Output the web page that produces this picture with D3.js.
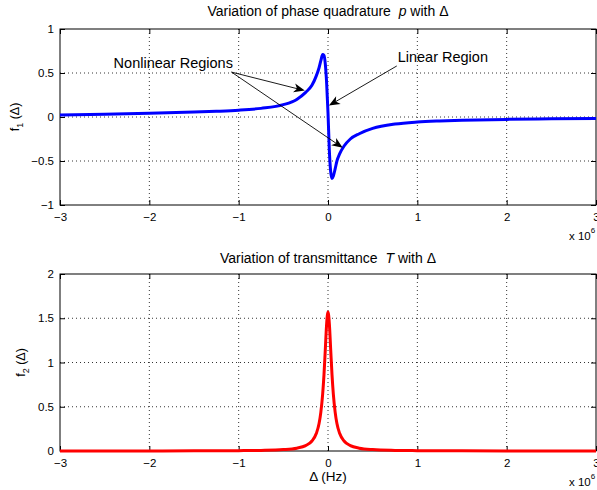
<!DOCTYPE html>
<html>
<head>
<meta charset="utf-8">
<script src="https://cdn.jsdelivr.net/npm/d3@7"></script>
<style>
  body { margin: 0; background: #fff; }
  svg { display: block; font-family: "Liberation Sans", Arial, sans-serif; }
  .tick text { font-size: 11.5px; fill: #000; }
  .tick line { stroke: #000; }
  .grid line { stroke: #000; stroke-dasharray: 1,3; stroke-width: 0.8; }
</style>
</head>
<body>
<svg width="597" height="490"></svg>
<script>
// detuning in units of 1e6 Hz
const delta = [-3, -2.5, -2, -1.5, -1.25, -1, -0.75, -0.5, -0.35, -0.25, -0.18, -0.13, -0.1, -0.08, -0.06, -0.045,
  -0.03, -0.015, 0, 0.015, 0.03, 0.045, 0.06, 0.08, 0.1, 0.13, 0.18, 0.25, 0.35, 0.5, 0.75, 1, 1.25, 1.5, 2, 2.5, 3];

// phase quadrature p
const f1 = [0.022, 0.031, 0.042, 0.056, 0.065, 0.077, 0.098, 0.14, 0.2, 0.28, 0.36, 0.47, 0.56, 0.64, 0.71, 0.7,
  0.6, 0.38, 0.05, -0.38, -0.62, -0.7, -0.67, -0.59, -0.5, -0.42, -0.33, -0.25, -0.19, -0.13, -0.08, -0.057, -0.045, -0.037, -0.027, -0.021, -0.018];

// transmittance T
const f2 = [0.0004, 0.0006, 0.001, 0.0018, 0.0025, 0.004, 0.007, 0.016, 0.032, 0.061, 0.113, 0.2, 0.31, 0.44, 0.64, 0.86,
  1.15, 1.44, 1.57, 1.44, 1.15, 0.86, 0.64, 0.44, 0.31, 0.2, 0.113, 0.061, 0.032, 0.016, 0.007, 0.004, 0.0025, 0.0018, 0.001, 0.0006, 0.0004];

const xTicks = [-3, -2, -1, 0, 1, 2, 3];
const y1Ticks = [-1, -0.5, 0, 0.5, 1];
const y2Ticks = [0, 0.5, 1, 1.5, 2];

const svg = d3.select("svg");

const x = d3.scaleLinear().domain([-3, 3]).range([60, 596]);
const y1 = d3.scaleLinear().domain([-1, 1]).range([205, 29]);
const y2 = d3.scaleLinear().domain([0, 2]).range([451, 274]);

function drawPanel(y, yTicks, values, color) {
  const [yb, yt] = y.range();
  const g = svg.append("g");

  // grid
  const grid = g.append("g").attr("class", "grid");
  grid.selectAll(".gx").data(xTicks.slice(1, -1)).enter().append("line")
    .attr("x1", d => x(d)).attr("x2", d => x(d))
    .attr("y1", yt).attr("y2", yb);
  grid.selectAll(".gy").data(yTicks.slice(1, -1)).enter().append("line")
    .attr("x1", x(-3)).attr("x2", x(3))
    .attr("y1", d => y(d)).attr("y2", d => y(d));

  // axes with inward ticks
  g.append("g").attr("transform", `translate(0,${yb})`)
    .call(d3.axisBottom(x).tickValues(xTicks).tickSize(-5).tickPadding(8).tickFormat(d3.format("d")))
    .call(a => a.select(".domain").remove());
  g.append("g").attr("transform", `translate(0,${yt})`)
    .call(d3.axisTop(x).tickValues(xTicks).tickSize(-5).tickFormat(""))
    .call(a => a.select(".domain").remove());
  g.append("g").attr("transform", `translate(${x(-3)},0)`)
    .call(d3.axisLeft(y).tickValues(yTicks).tickSize(-5).tickPadding(6).tickFormat(d3.format("")))
    .call(a => a.select(".domain").remove());
  g.append("g").attr("transform", `translate(${x(3)},0)`)
    .call(d3.axisRight(y).tickValues(yTicks).tickSize(-5).tickFormat(""))
    .call(a => a.select(".domain").remove());

  g.append("rect")
    .attr("x", x(-3)).attr("y", yt)
    .attr("width", x(3) - x(-3)).attr("height", yb - yt)
    .attr("fill", "none").attr("stroke", "#000").attr("stroke-width", 1);

  const line = d3.line()
    .x((d, i) => x(delta[i]))
    .y(d => y(d))
    .curve(d3.curveMonotoneX);

  g.append("path")
    .datum(values)
    .attr("d", line)
    .attr("fill", "none")
    .attr("stroke", color)
    .attr("stroke-width", 3)
    .attr("stroke-linejoin", "round");

  // x 10^6 multiplier
  const m = g.append("text")
    .attr("x", 569).attr("y", yb + 35)
    .attr("font-size", 11.5);
  m.append("tspan").text("x 10");
  m.append("tspan").attr("dy", -7).attr("font-size", 8).text("6");
}

drawPanel(y1, y1Ticks, f1, "#0000ff");
drawPanel(y2, y2Ticks, f2, "#ff0000");

// titles
function title(yPos, pre, sym) {
  const t = svg.append("text")
    .attr("x", x(0)).attr("y", yPos)
    .attr("text-anchor", "middle")
    .attr("font-size", 14);
  t.append("tspan").text(pre + "\u00a0\u00a0");
  t.append("tspan").attr("font-style", "italic").text(sym);
  t.append("tspan").text(" with \u0394");
}
title(16, "Variation of phase quadrature", "p");
title(263, "Variation of transmittance", "T");

// y labels
function yLabel(xPos, yPos, sub) {
  const t = svg.append("text")
    .attr("transform", `translate(${xPos},${yPos}) rotate(-90)`)
    .attr("text-anchor", "middle")
    .attr("font-size", 12.5);
  t.append("tspan").text("f");
  t.append("tspan").attr("dy", 4).attr("font-size", 9).text(sub);
  t.append("tspan").attr("dy", -4).text(" (\u0394)");
}
yLabel(19, y1(0), "1");
yLabel(25, y2(1), "2");

svg.append("text")
  .attr("x", x(0)).attr("y", 481)
  .attr("text-anchor", "middle")
  .attr("font-size", 13.5)
  .text("\u0394 (Hz)");

// annotations (data coordinates of top panel)
const notes = [
  { text: "Nonlinear Regions", tx: -2.4, ty: 0.56, from: [-1.08, 0.51], to: [-0.26, 0.3] },
  { text: null, from: [-1.08, 0.51], to: [0.165, -0.35] },
  { text: "Linear Region", tx: 0.78, ty: 0.62, from: [0.77, 0.58], to: [0.01, 0.13] }
];

function arrow(p0, p1) {
  const [x0, ya] = [x(p0[0]), y1(p0[1])];
  const [x1, yb] = [x(p1[0]), y1(p1[1])];
  const ang = Math.atan2(yb - ya, x1 - x0);
  const len = 11, half = 4.5, back = 8;
  const c = Math.cos(ang), s = Math.sin(ang);
  const pt = (a, b) => [x1 - a * c - b * s, yb - a * s + b * c];
  const l = pt(len, half), r = pt(len, -half), m = pt(back, 0);
  svg.append("line")
    .attr("x1", x0).attr("y1", ya).attr("x2", m[0]).attr("y2", m[1])
    .attr("stroke", "#000").attr("stroke-width", 0.9);
  svg.append("path")
    .attr("d", `M${x1},${yb}L${l[0]},${l[1]}L${m[0]},${m[1]}L${r[0]},${r[1]}Z`)
    .attr("fill", "#000");
}

notes.forEach(n => {
  arrow(n.from, n.to);
  if (n.text) {
    svg.append("text")
      .attr("x", x(n.tx)).attr("y", y1(n.ty))
      .attr("font-size", 14.5)
      .text(n.text);
  }
});
</script>
</body>
</html>
